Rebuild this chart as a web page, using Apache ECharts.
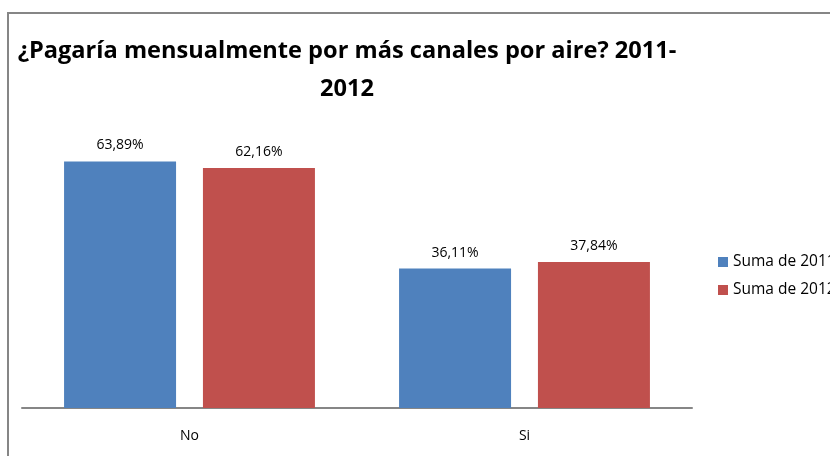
<!DOCTYPE html>
<html>
<head>
<meta charset="UTF-8">
<title>Pagaría mensualmente</title>
<script src="https://cdn.jsdelivr.net/npm/echarts@6/dist/echarts.min.js"></script>
<style>
  html, body { margin: 0; padding: 0; background: #fff; }
  #chart { width: 830px; height: 456px; }
</style>
</head>
<body>
<div id="chart"></div>
<script>
var categories = ['No', 'Si'];
var serie2011 = [63.89, 36.11];
var serie2012 = [62.16, 37.84];
var seriesNames = ['Suma de 2011', 'Suma de 2012'];

var font = '"Open Sans", sans-serif';

function fmt(p) {
  return p.value.toFixed(2).replace('.', ',') + '%';
}

var chart = echarts.init(document.getElementById('chart'));
chart.setOption({
  animation: false,
  title: {
    text: '¿Pagaría mensualmente por más canales por aire? 2011-\n2012',
    left: 342,
    top: 27,
    textAlign: 'center',
    textStyle: { fontFamily: font, fontWeight: 'bold', fontSize: 23.6, lineHeight: 38, color: '#000' }
  },
  legend: {
    orient: 'vertical',
    left: 713,
    top: 247,
    itemWidth: 10,
    itemHeight: 10,
    itemGap: 8,
    icon: 'rect',
    data: seriesNames,
    textStyle: { fontFamily: font, fontSize: 15.5, lineHeight: 20, color: '#000' }
  },
  graphic: [{
    type: 'polyline',
    shape: { points: [[8, 460], [8, 13], [840, 13]] },
    style: { stroke: '#868686', lineWidth: 2, fill: null }
  }],
  grid: { left: 22, right: 138, top: 22, bottom: 48 },
  xAxis: {
    type: 'category',
    data: categories,
    axisLine: { lineStyle: { color: '#868686', width: 2 } },
    axisTick: { show: false },
    axisLabel: { margin: 21, fontFamily: font, fontSize: 14, color: '#000' }
  },
  yAxis: {
    type: 'value',
    min: 0,
    max: 100,
    show: false,
    splitLine: { show: false }
  },
  series: [{
    name: seriesNames[0],
    type: 'bar',
    data: serie2011,
    barWidth: 112,
    barGap: '24%',
    itemStyle: { color: '#4F81BD' },
    label: { show: true, position: 'top', distance: 9, formatter: fmt, fontFamily: font, fontSize: 14, color: '#000' }
  }, {
    name: seriesNames[1],
    type: 'bar',
    data: serie2012,
    barWidth: 112,
    itemStyle: { color: '#C0504D' },
    label: { show: true, position: 'top', distance: 9, formatter: fmt, fontFamily: font, fontSize: 14, color: '#000' }
  }]
});
</script>
</body>
</html>
